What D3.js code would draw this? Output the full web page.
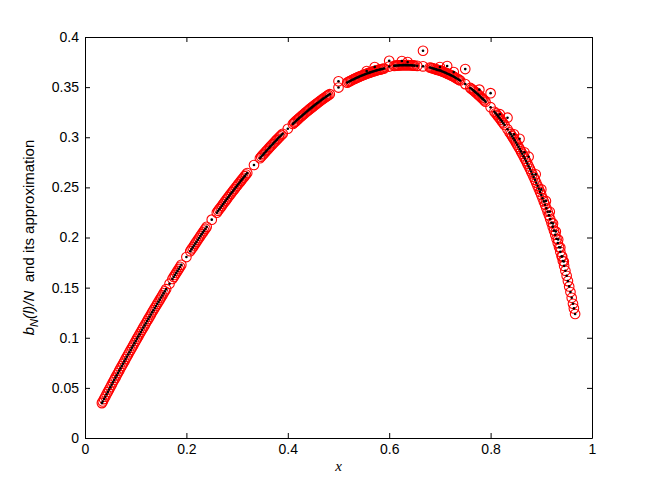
<!DOCTYPE html>
<html>
<head>
<meta charset="utf-8">
<script src="https://cdn.jsdelivr.net/npm/d3@7"></script>
<style>
body { margin: 0; background: #fff; }
svg { display: block; }
</style>
</head>
<body>
<script>
//Width and height
var w = 654;
var h = 492;

//tick values
var xTicks = [0, 0.2, 0.4, 0.6, 0.8, 1];
var yTicks = [0, 0.05, 0.1, 0.15, 0.2, 0.25, 0.3, 0.35, 0.4];

//l/N positions and b_N(l)/N values
var lOverN = [0.0333, 0.035, 0.0375, 0.040, 0.0425, 0.045, 0.0475, 0.050, 0.0525, 0.055,
    0.0575, 0.060, 0.0625, 0.065, 0.0675, 0.070, 0.0725, 0.075, 0.0775, 0.080,
    0.0825, 0.085, 0.0875, 0.090, 0.0925, 0.095, 0.0975, 0.100, 0.1025, 0.105,
    0.1075, 0.110, 0.1125, 0.115, 0.1175, 0.120, 0.1225, 0.125, 0.1275, 0.130,
    0.1325, 0.135, 0.1375, 0.140, 0.1425, 0.145, 0.1475, 0.150, 0.1525, 0.155,
    0.1575, 0.160, 0.1667, 0.1724, 0.175, 0.1775, 0.180, 0.1825, 0.185, 0.1875,
    0.190, 0.200, 0.2075, 0.210, 0.2125, 0.215, 0.2175, 0.220, 0.2225, 0.225,
    0.2275, 0.230, 0.2325, 0.235, 0.2375, 0.240, 0.250, 0.260, 0.2625, 0.265,
    0.2675, 0.270, 0.2725, 0.275, 0.2775, 0.280, 0.2825, 0.285, 0.2875, 0.290,
    0.2925, 0.295, 0.2975, 0.300, 0.3025, 0.305, 0.3075, 0.310, 0.3125, 0.315,
    0.3175, 0.320, 0.3333, 0.345, 0.3475, 0.350, 0.3525, 0.355, 0.3575, 0.360,
    0.3625, 0.365, 0.3675, 0.370, 0.3725, 0.375, 0.3775, 0.380, 0.3825, 0.385,
    0.3875, 0.390, 0.400, 0.410, 0.4125, 0.415, 0.4175, 0.420, 0.4225, 0.425,
    0.4275, 0.430, 0.4325, 0.435, 0.4375, 0.440, 0.4425, 0.445, 0.4475, 0.450,
    0.4525, 0.455, 0.4575, 0.460, 0.4625, 0.465, 0.4675, 0.470, 0.4725, 0.475,
    0.4775, 0.480, 0.4828, 0.500, 0.5172, 0.520, 0.5225, 0.525, 0.5275, 0.530,
    0.5325, 0.535, 0.5375, 0.540, 0.5425, 0.545, 0.5475, 0.550, 0.5525, 0.555,
    0.5575, 0.560, 0.5625, 0.565, 0.5675, 0.570, 0.5725, 0.575, 0.5775, 0.580,
    0.5825, 0.585, 0.5875, 0.590, 0.600, 0.610, 0.6125, 0.615, 0.6175, 0.620,
    0.6225, 0.625, 0.6275, 0.630, 0.6325, 0.635, 0.6375, 0.640, 0.6425, 0.645,
    0.6475, 0.650, 0.6552, 0.6667, 0.680, 0.6825, 0.685, 0.6875, 0.690, 0.6925,
    0.695, 0.6975, 0.700, 0.7025, 0.705, 0.7075, 0.710, 0.7125, 0.715, 0.7175,
    0.720, 0.7225, 0.725, 0.7275, 0.730, 0.7325, 0.735, 0.7375, 0.740, 0.750,
    0.760, 0.7625, 0.765, 0.7675, 0.770, 0.7725, 0.775, 0.7775, 0.780, 0.7825,
    0.785, 0.7875, 0.790, 0.800, 0.8075, 0.810, 0.8125, 0.815, 0.8175, 0.820,
    0.8225, 0.825, 0.8275, 0.8333, 0.8375, 0.840, 0.8425, 0.845, 0.8475, 0.850,
    0.8525, 0.855, 0.8575, 0.860, 0.8625, 0.865, 0.8675, 0.870, 0.8725, 0.875,
    0.8775, 0.880, 0.8825, 0.885, 0.8875, 0.890, 0.8925, 0.895, 0.8975, 0.900,
    0.9025, 0.905, 0.9075, 0.910, 0.9125, 0.915, 0.9175, 0.920, 0.9225, 0.925,
    0.9275, 0.930, 0.9325, 0.935, 0.9375, 0.940, 0.9425, 0.945, 0.9475, 0.950,
    0.9525, 0.955, 0.9575, 0.960, 0.9625, 0.9643, 0.9667];
var bOverN = [0.0348, 0.0364, 0.0388, 0.0412, 0.0436, 0.0460, 0.0484, 0.0507, 0.0531, 0.0555,
    0.0579, 0.0602, 0.0625, 0.0648, 0.0672, 0.0695, 0.0718, 0.0741, 0.0764, 0.0787,
    0.0810, 0.0833, 0.0856, 0.0878, 0.0901, 0.0923, 0.0946, 0.0968, 0.0991, 0.1013,
    0.1035, 0.1057, 0.1079, 0.1101, 0.1123, 0.1145, 0.1167, 0.1188, 0.1210, 0.1232,
    0.1254, 0.1275, 0.1296, 0.1317, 0.1338, 0.1359, 0.1380, 0.1401, 0.1422, 0.1443,
    0.1464, 0.1485, 0.1539, 0.1586, 0.1607, 0.1627, 0.1647, 0.1667, 0.1687, 0.1707,
    0.1727, 0.1805, 0.1863, 0.1882, 0.1901, 0.1920, 0.1939, 0.1958, 0.1977, 0.1995,
    0.2014, 0.2033, 0.2051, 0.2069, 0.2088, 0.2106, 0.2178, 0.2248, 0.2266, 0.2283,
    0.2300, 0.2317, 0.2334, 0.2351, 0.2368, 0.2385, 0.2402, 0.2419, 0.2436, 0.2452,
    0.2468, 0.2484, 0.2501, 0.2517, 0.2533, 0.2549, 0.2565, 0.2580, 0.2596, 0.2612,
    0.2628, 0.2643, 0.2723, 0.2791, 0.2806, 0.2820, 0.2834, 0.2848, 0.2862, 0.2876,
    0.2890, 0.2904, 0.2918, 0.2931, 0.2945, 0.2958, 0.2971, 0.2984, 0.2997, 0.3010,
    0.3023, 0.3035, 0.3085, 0.3133, 0.3145, 0.3156, 0.3168, 0.3179, 0.3191, 0.3202,
    0.3213, 0.3224, 0.3235, 0.3246, 0.3257, 0.3267, 0.3278, 0.3288, 0.3298, 0.3308,
    0.3318, 0.3328, 0.3338, 0.3347, 0.3357, 0.3366, 0.3376, 0.3385, 0.3394, 0.3403,
    0.3412, 0.3420, 0.3430, 0.3496, 0.3545, 0.3553, 0.3560, 0.3566, 0.3573, 0.3579,
    0.3585, 0.3591, 0.3597, 0.3602, 0.3608, 0.3613, 0.3618, 0.3623, 0.3628, 0.3633,
    0.3638, 0.3642, 0.3647, 0.3651, 0.3655, 0.3659, 0.3663, 0.3667, 0.3671, 0.3674,
    0.3677, 0.3680, 0.3683, 0.3686, 0.3705, 0.3712, 0.3714, 0.3715, 0.3716, 0.3717,
    0.3718, 0.3718, 0.3719, 0.3719, 0.3719, 0.3719, 0.3719, 0.3718, 0.3718, 0.3717,
    0.3716, 0.3714, 0.3712, 0.3707, 0.3696, 0.3693, 0.3689, 0.3685, 0.3681, 0.3677,
    0.3672, 0.3670, 0.3667, 0.3662, 0.3656, 0.3651, 0.3645, 0.3640, 0.3634, 0.3629,
    0.3623, 0.3617, 0.3611, 0.3604, 0.3596, 0.3589, 0.3581, 0.3574, 0.3566, 0.3530,
    0.3492, 0.3482, 0.3472, 0.3461, 0.3450, 0.3439, 0.3428, 0.3416, 0.3404, 0.3392,
    0.3380, 0.3368, 0.3355, 0.3300, 0.3254, 0.3239, 0.3224, 0.3208, 0.3192, 0.3175,
    0.3158, 0.3140, 0.3122, 0.3080, 0.3048, 0.3029, 0.3009, 0.2989, 0.2969, 0.2948,
    0.2926, 0.2904, 0.2882, 0.2859, 0.2835, 0.2811, 0.2787, 0.2762, 0.2737, 0.2711,
    0.2685, 0.2658, 0.2631, 0.2603, 0.2575, 0.2546, 0.2516, 0.2486, 0.2455, 0.2424,
    0.2392, 0.2360, 0.2326, 0.2292, 0.2257, 0.2221, 0.2184, 0.2147, 0.2108, 0.2069,
    0.2028, 0.1987, 0.1945, 0.1902, 0.1857, 0.1812, 0.1765, 0.1717, 0.1668, 0.1618,
    0.1565, 0.1512, 0.1456, 0.1399, 0.1339, 0.1293, 0.1237];

//points at simple fractions that sit above the curve
var peakX = [0.5, 0.5556, 0.5714, 0.6, 0.625, 0.6364, 0.6667, 0.7, 0.7143, 0.7273,
    0.75, 0.7778, 0.8, 0.8182, 0.8333, 0.8462, 0.8571, 0.8667, 0.875, 0.8889,
    0.9, 0.9091, 0.9167, 0.9231, 0.9286, 0.9333, 0.9375, 0.9412, 0.9444];
var peakY = [0.3558, 0.3660, 0.3700, 0.3762, 0.3760, 0.3750, 0.3863, 0.3700, 0.3710, 0.3650,
    0.3680, 0.3475, 0.3440, 0.3230, 0.3195, 0.3030, 0.2985, 0.2850, 0.2806, 0.2630,
    0.2480, 0.2365, 0.2257, 0.2140, 0.2060, 0.1980, 0.1900, 0.1810, 0.1760];

var allX = lOverN.concat(peakX);
var allY = bOverN.concat(peakY);

//plot box (matlab default axes position)
var boxLeft = 85, boxRight = 592, boxTop = 37, boxBottom = 438;

var xScale = d3.scaleLinear().domain([0, 1]).range([boxLeft, boxRight]);
var yScale = d3.scaleLinear().domain([0, 0.4]).range([boxBottom, boxTop]);

var svg = d3.select("body")
            .append("svg")
            .attr("width", w)
            .attr("height", h)
            .style("font-family", "'Liberation Sans', Arial, sans-serif");

var fmt = function(d) { return String(+d.toFixed(2)); };

//axes, ticks inside
svg.append("g")
   .attr("transform", "translate(0," + boxBottom + ")")
   .call(d3.axisBottom(xScale).tickValues(xTicks).tickFormat(fmt)
         .tickSizeInner(-5).tickSizeOuter(0).tickPadding(6));
svg.append("g")
   .attr("transform", "translate(0," + boxTop + ")")
   .call(d3.axisTop(xScale).tickValues(xTicks).tickFormat("")
         .tickSizeInner(-5).tickSizeOuter(0));
svg.append("g")
   .attr("transform", "translate(" + boxLeft + ",0)")
   .call(d3.axisLeft(yScale).tickValues(yTicks).tickFormat(fmt)
         .tickSizeInner(-5).tickSizeOuter(0).tickPadding(6));
svg.append("g")
   .attr("transform", "translate(" + boxRight + ",0)")
   .call(d3.axisRight(yScale).tickValues(yTicks).tickFormat("")
         .tickSizeInner(-5).tickSizeOuter(0));

svg.selectAll(".tick text")
   .attr("fill", "#000")
   .style("font-size", "14px")
   .style("font-family", "'Liberation Sans', Arial, sans-serif");
svg.selectAll(".domain, .tick line").attr("stroke", "#000");

//red circles (approximation)
svg.append("g")
   .selectAll("circle")
   .data(allX)
   .enter()
   .append("circle")
   .attr("cx", function(d) { return xScale(d); })
   .attr("cy", function(d, i) { return yScale(allY[i]); })
   .attr("r", 4.8)
   .attr("fill", "none")
   .attr("stroke", "#ff0000")
   .attr("stroke-width", 1.1);

//black dots (b_N(l)/N)
svg.append("g")
   .selectAll("circle")
   .data(allX)
   .enter()
   .append("circle")
   .attr("cx", function(d) { return xScale(d); })
   .attr("cy", function(d, i) { return yScale(allY[i]); })
   .attr("r", 1.3)
   .attr("fill", "#000");

//x label
svg.append("text")
   .attr("x", (boxLeft + boxRight) / 2)
   .attr("y", 471)
   .attr("text-anchor", "middle")
   .style("font-family", "'Liberation Serif', 'Times New Roman', serif")
   .style("font-style", "italic")
   .style("font-size", "15px")
   .text("x");

//y label with subscript
var yl = svg.append("text")
   .attr("transform", "translate(34," + ((boxTop + boxBottom) / 2) + ") rotate(-90)")
   .attr("text-anchor", "middle")
   .style("font-size", "15px");
yl.append("tspan").style("font-style", "italic").text("b");
yl.append("tspan").style("font-style", "italic").style("font-size", "11px").attr("dy", 4).text("N");
yl.append("tspan").style("font-style", "italic").attr("dy", -4).text("(l)/N");
yl.append("tspan").text("\u00a0 and its approximation");
</script>
</body>
</html>
